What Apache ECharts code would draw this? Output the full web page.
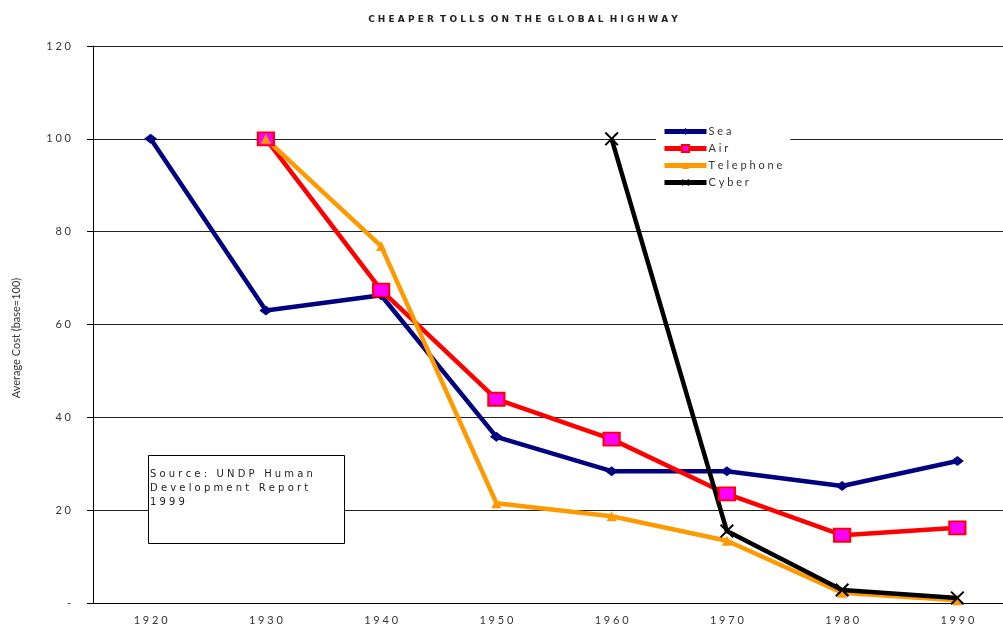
<!DOCTYPE html>
<html>
<head>
<meta charset="utf-8">
<script src="https://cdn.jsdelivr.net/npm/echarts@6/dist/echarts.min.js"></script>
<style>
  html, body { margin: 0; padding: 0; background: #fff; overflow: hidden; }
  /* plot runs past the right edge in the original, so the canvas is a bit wider than the window */
  #chart { width: 1015px; height: 626px; }
</style>
</head>
<body>
<div id="chart"></div>
<script>
// data
const years = ['1920', '1930', '1940', '1950', '1960', '1970', '1980', '1990']
const sea = [100, 63, 66.3, 35.8, 28.4, 28.4, 25.2, 30.6]
const air = ['-', 100, 67.4, 43.9, 35.3, 23.5, 14.6, 16.2]
const telephone = ['-', 100, 76.9, 21.5, 18.7, 13.4, 2.2, 0.6]
const cyber = ['-', '-', '-', '-', 100, 15.5, 2.8, 1.1]

// spread letters out like the original's wide tracking
const spaced = (s, gap = '   ') => String(s).split(' ').map(w => w.split('').join(' ')).join(gap)

const font = 'Lato, "Liberation Sans", sans-serif'
const wide = '"DejaVu Sans", sans-serif'
const crossPath = 'path://M0,1L1,0L10,9L9,10Z M9,0L10,1L1,10L0,9Z'

const chart = echarts.init(document.getElementById('chart'))
chart.setOption({
  animation: false,
  title: {
    text: spaced('CHEAPER TOLLS ON THE GLOBAL HIGHWAY', '  '),
    left: 518, top: 10,
    textAlign: 'center',
    textStyle: { fontSize: 9, fontWeight: 'bold', color: '#222', fontFamily: wide }
  },
  legend: {
    orient: 'vertical',
    left: 656, top: 122,
    backgroundColor: '#fff',
    padding: [4, 8, 4, 6],
    itemWidth: 42, itemHeight: 9, itemGap: 6,
    lineStyle: { width: 5 },
    formatter: name => spaced(name),
    textStyle: { fontSize: 11, color: '#333', fontFamily: font, padding: [0, 0, 0, -3] },
    data: ['Sea', 'Air', 'Telephone', 'Cyber']
  },
  grid: { left: 93, top: 46, width: 922, height: 557 },
  xAxis: {
    type: 'category',
    data: years,
    axisLine: { lineStyle: { color: '#000', width: 1 } },
    axisTick: { length: 5, lineStyle: { color: '#000' } },
    axisLabel: { formatter: v => spaced(v), fontSize: 11, color: '#333', margin: 12, fontFamily: font }
  },
  yAxis: {
    type: 'value',
    min: 0, max: 120, interval: 20,
    axisLine: { show: true, lineStyle: { color: '#000', width: 1 } },
    axisTick: { show: true, length: 6, lineStyle: { color: '#000' } },
    splitLine: { lineStyle: { color: '#222', width: 1 } },
    axisLabel: {
      formatter: v => (v === 0 ? '-' : spaced(v)),
      fontSize: 11, color: '#333', margin: 22, fontFamily: font
    }
  },
  graphic: [
    {
      type: 'text',
      x: 16, y: 338,
      rotation: Math.PI / 2,
      style: {
        text: 'Average Cost (base=100)',
        align: 'center', verticalAlign: 'middle',
        fontSize: 11, fill: '#333', fontFamily: font
      }
    },
    {
      type: 'rect',
      shape: { x: 148.5, y: 455.5, width: 196, height: 88 },
      style: { fill: '#fff', stroke: '#000', lineWidth: 1 },
      z: 10
    },
    {
      type: 'text',
      x: 150, y: 467,
      style: {
        text: spaced('Source: UNDP Human') + '\n' + spaced('Development Report') + '\n' + spaced('1999'),
        fontSize: 10, lineHeight: 14, fill: '#222', fontFamily: wide
      },
      z: 11
    }
  ],
  series: [
    {
      name: 'Sea', type: 'line', data: sea,
      symbol: 'diamond', symbolSize: [13, 10],
      lineStyle: { color: '#000080', width: 4.5 },
      itemStyle: { color: '#000080' }
    },
    {
      name: 'Air', type: 'line', data: air,
      symbol: 'rect', symbolSize: [16, 13],
      lineStyle: { color: '#ff0000', width: 4.5 },
      itemStyle: { color: '#ff00ff', borderColor: '#ff0000', borderWidth: 2 }
    },
    {
      name: 'Telephone', type: 'line', data: telephone,
      symbol: 'triangle', symbolSize: 10,
      lineStyle: { color: '#ff9900', width: 4.5 },
      itemStyle: { color: '#ff9900' }
    },
    {
      name: 'Cyber', type: 'line', data: cyber,
      symbol: crossPath, symbolSize: 14,
      lineStyle: { color: '#000', width: 4.5 },
      itemStyle: { color: '#000' }
    }
  ]
})
</script>
</body>
</html>
